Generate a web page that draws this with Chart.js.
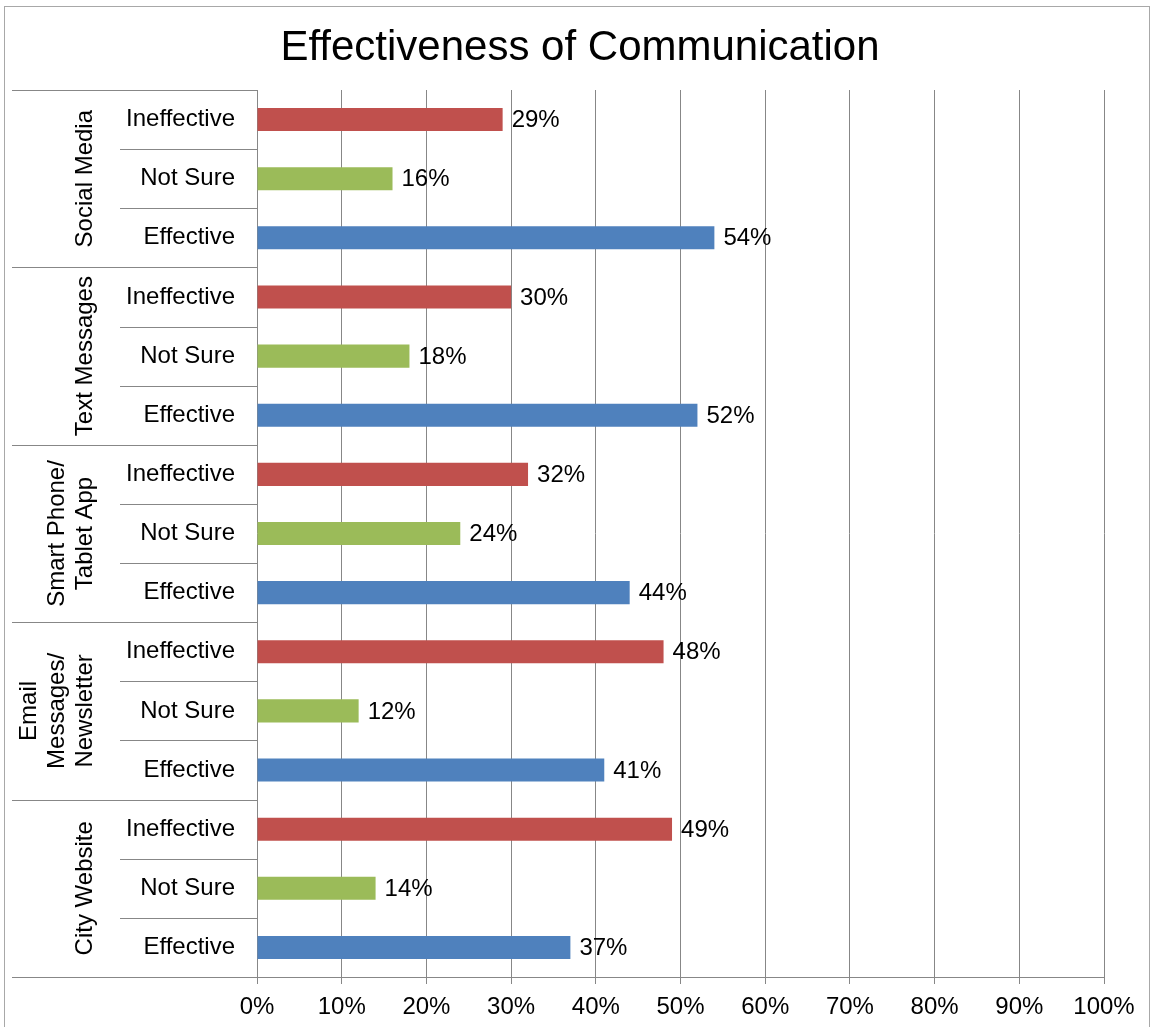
<!DOCTYPE html>
<html>
<head>
<meta charset="utf-8">
<script src="https://cdn.jsdelivr.net/npm/chart.js@4/dist/chart.umd.min.js"></script>
<style>
  html, body { margin: 0; padding: 0; background: #ffffff; }
  canvas { display: block; }
</style>
</head>
<body>
<canvas id="c" width="1151" height="1027"></canvas>
<script>
// ---- Data ----
const groups = ['Social Media', 'Text Messages', 'Smart Phone/\nTablet App', 'Email\nMessages/\nNewsletter', 'City Website'];
const responses = ['Ineffective', 'Not Sure', 'Effective'];
const ineffective = [29, 30, 32, 48, 49];
const notSure = [16, 18, 24, 12, 14];
const effective = [54, 52, 44, 41, 37];
const xTicks = [0, 10, 20, 30, 40, 50, 60, 70, 80, 90, 100];

const responseColors = ['#C0504D', '#9BBB59', '#4F81BD'];
const FONT = "'Liberation Sans', Arial, sans-serif";

// Build rows (top to bottom)
const rowLabels = [];
const rowValues = [];
const rowColors = [];
const seriesByResponse = [ineffective, notSure, effective];
groups.forEach((g, gi) => {
  responses.forEach((r, ri) => {
    rowLabels.push(r);
    rowValues.push(seriesByResponse[ri][gi]);
    rowColors.push(responseColors[ri]);
  });
});

const GRID = '#878787';

const decorPlugin = {
  id: 'decor',
  beforeDraw(chart) {
    const ctx = chart.ctx;
    ctx.save();
    ctx.fillStyle = '#ffffff';
    ctx.fillRect(0, 0, chart.width, chart.height);
    ctx.strokeStyle = '#a8a8a8';
    ctx.lineWidth = 1;
    ctx.strokeRect(4.5, 6.5, chart.width - 6, chart.height + 10);
    ctx.restore();
  },
  afterDraw(chart) {
    const ctx = chart.ctx;
    const y = chart.scales.y;
    const area = chart.chartArea;
    const n = rowLabels.length;
    ctx.save();
    // separators in the label column
    ctx.strokeStyle = GRID;
    ctx.lineWidth = 1;
    for (let k = 0; k <= n; k++) {
      let py;
      if (k === 0) py = area.top;
      else if (k === n) py = area.bottom;
      else py = (y.getPixelForValue(k - 1) + y.getPixelForValue(k)) / 2;
      py = Math.round(py) + 0.5;
      const x0 = (k % 3 === 0) ? 12 : 120;
      ctx.beginPath();
      ctx.moveTo(x0, py);
      ctx.lineTo(area.left, py);
      ctx.stroke();
    }
    // group labels (rotated)
    ctx.fillStyle = '#000000';
    ctx.font = '24px ' + FONT;
    ctx.textAlign = 'center';
    ctx.textBaseline = 'middle';
    groups.forEach((g, gi) => {
      const yc = (y.getPixelForValue(gi * 3) + y.getPixelForValue(gi * 3 + 2)) / 2;
      const lines = g.split('\n');
      lines.forEach((line, li) => {
        const xc = 85 - (lines.length - 1 - li) * 28;
        ctx.save();
        ctx.translate(xc, yc);
        ctx.rotate(-Math.PI / 2);
        ctx.fillText(line, 0, 0);
        ctx.restore();
      });
    });
    // value labels
    const meta = chart.getDatasetMeta(0);
    ctx.textAlign = 'left';
    ctx.textBaseline = 'middle';
    meta.data.forEach((bar, i) => {
      ctx.fillText(rowValues[i] + '%', bar.x + 9, bar.y + 1);
    });
    ctx.restore();
  }
};

new Chart(document.getElementById('c'), {
  type: 'bar',
  data: {
    labels: rowLabels,
    datasets: [{
      data: rowValues,
      backgroundColor: rowColors,
      borderWidth: 0,
      barPercentage: 0.39,
      categoryPercentage: 1.0
    }]
  },
  options: {
    indexAxis: 'y',
    responsive: false,
    devicePixelRatio: 1,
    animation: false,
    layout: { padding: { left: 56, right: 47, top: 0, bottom: 0 } },
    plugins: {
      legend: { display: false },
      tooltip: { enabled: false },
      title: {
        display: true,
        text: 'Effectiveness of Communication',
        color: '#000000',
        font: { family: FONT, size: 42, weight: 'normal', lineHeight: 1.2 },
        padding: { top: 23, bottom: 16.6 }
      }
    },
    scales: {
      x: {
        min: 0,
        max: 100,
        afterBuildTicks(scale) {
          scale.ticks = xTicks.map(v => ({ value: v }));
        },
        afterFit(scale) { scale.height = 50; },
        grid: {
          color: GRID,
          lineWidth: 1,
          drawTicks: true,
          tickLength: 7,
          tickColor: GRID
        },
        border: { display: true, color: GRID, width: 1 },
        ticks: {
          padding: 9,
          color: '#000000',
          font: { family: FONT, size: 24 },
          callback: (v) => v + '%'
        }
      },
      y: {
        afterFit(scale) { scale.width = 201; },
        grid: { display: false, drawTicks: false },
        border: { display: false },
        ticks: {
          padding: 22,
          color: '#000000',
          font: { family: FONT, size: 24 },
          autoSkip: false
        }
      }
    }
  },
  plugins: [decorPlugin]
});
</script>
</body>
</html>
